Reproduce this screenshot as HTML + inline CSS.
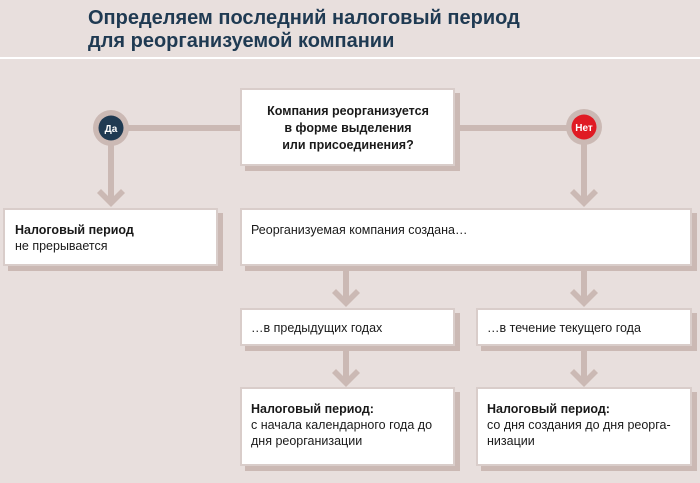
<!DOCTYPE html>
<html><head><meta charset="utf-8"><style>
body{margin:0;width:700px;height:483px;background:#e8dfdd;overflow:hidden}
svg{display:block}
text{font-family:"Liberation Sans",sans-serif;fill:#1a1a1a;font-size:12.5px}
.b{font-weight:bold}
</style></head><body>
<svg width="700" height="483" viewBox="0 0 700 483">
<rect width="700" height="483" fill="#e8dfdd"/>
<text x="88" y="24" class="b" style="font-size:20px;fill:#1f3a52">Определяем последний налоговый период</text>
<text x="88" y="47" class="b" style="font-size:20px;fill:#1f3a52">для реорганизуемой компании</text>
<rect x="0" y="57" width="700" height="2" fill="#fff"/>
<g stroke="#cbb9b4" stroke-width="6" fill="none">
<line x1="111" y1="128" x2="584" y2="128"/>
<line x1="111" y1="128" x2="111" y2="204"/>
<line x1="584" y1="128" x2="584" y2="204"/>
<line x1="346" y1="266" x2="346" y2="303"/>
<line x1="584" y1="266" x2="584" y2="303"/>
<line x1="346" y1="346" x2="346" y2="383"/>
<line x1="584" y1="346" x2="584" y2="383"/>
</g>
<g fill="#cbb9b4">
<polygon points="97,193 101,189 111,199 121,189 125,193 111,207"/>
<polygon points="570,193 574,189 584,199 594,189 598,193 584,207"/>
<polygon points="332,293 336,289 346,299 356,289 360,293 346,307"/>
<polygon points="570,293 574,289 584,299 594,289 598,293 584,307"/>
<polygon points="332,373 336,369 346,379 356,369 360,373 346,387"/>
<polygon points="570,373 574,369 584,379 594,369 598,373 584,387"/>
<circle cx="111" cy="128" r="18"/>
<circle cx="584" cy="127" r="18"/>
<!-- shadows -->
<rect x="245" y="93" width="215" height="78"/>
<rect x="8" y="213" width="215" height="58"/>
<rect x="245" y="213" width="452" height="58"/>
<rect x="245" y="313" width="215" height="38"/>
<rect x="481" y="313" width="216" height="38"/>
<rect x="245" y="392" width="215" height="79"/>
<rect x="481" y="392" width="216" height="79"/>
</g>
<circle cx="111" cy="128" r="12.5" fill="#1f3a52"/>
<circle cx="584" cy="127" r="12.5" fill="#e01b24"/>
<text x="111" y="132" text-anchor="middle" class="b" style="fill:#fff;font-size:10px">Да</text>
<text x="584" y="131" text-anchor="middle" class="b" style="fill:#fff;font-size:10px">Нет</text>
<g fill="#fff" stroke="#d9cdca" stroke-width="2">
<rect x="241" y="89" width="213" height="76"/>
<rect x="4" y="209" width="213" height="56"/>
<rect x="241" y="209" width="450" height="56"/>
<rect x="241" y="309" width="213" height="36"/>
<rect x="477" y="309" width="214" height="36"/>
<rect x="241" y="388" width="213" height="77"/>
<rect x="477" y="388" width="214" height="77"/>
</g>
<text x="348" y="115" text-anchor="middle" class="b">Компания реорганизуется</text>
<text x="348" y="132" text-anchor="middle" class="b">в форме выделения</text>
<text x="348" y="149" text-anchor="middle" class="b">или присоединения?</text>
<text x="15" y="234" class="b">Налоговый период</text>
<text x="15" y="250">не прерывается</text>
<text x="251" y="234">Реорганизуемая компания создана…</text>
<text x="251" y="332">…в предыдущих годах</text>
<text x="487" y="332">…в течение текущего года</text>
<text x="251" y="413" class="b">Налоговый период:</text>
<text x="251" y="429">с начала календарного года до</text>
<text x="251" y="445">дня реорганизации</text>
<text x="487" y="413" class="b">Налоговый период:</text>
<text x="487" y="429">со дня создания до дня реорга-</text>
<text x="487" y="445">низации</text>
</svg>
</body></html>
